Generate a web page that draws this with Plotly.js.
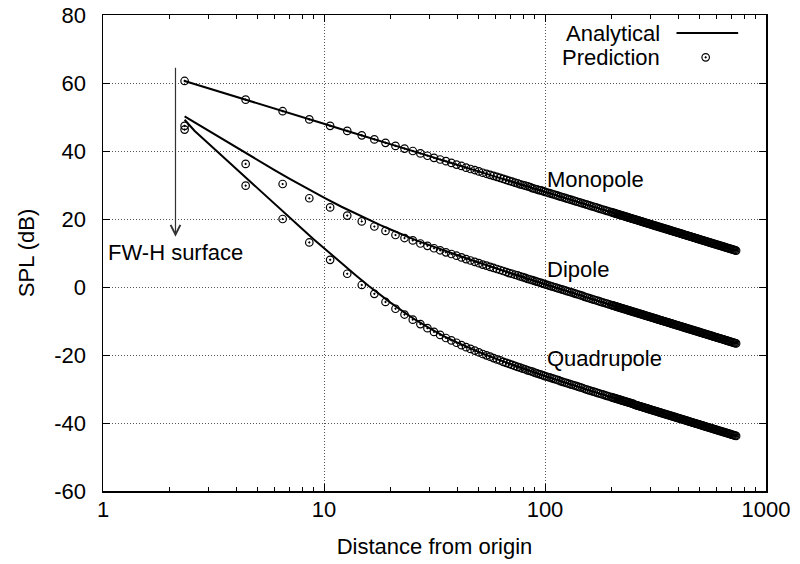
<!DOCTYPE html>
<html>
<head>
<meta charset="utf-8">
<script src="https://cdn.plot.ly/plotly-3.0.1.min.js"></script>
<style>
  html, body { margin: 0; padding: 0; background: #fff; }
  #chart { width: 800px; height: 564px; }
</style>
</head>
<body>
<div id="chart"></div>
<script>
// Distances of the FW-H prediction points (observer distance from origin)
const predDistance = [2.34, 4.42, 6.50, 8.58, 10.66, 12.74, 14.82, 16.90, 18.98, 21.06, 23.14, 25.22, 27.30, 29.38, 31.46, 33.54, 35.62, 37.70, 39.78, 41.86, 43.94, 46.02, 48.10, 50.18, 52.26, 54.34, 56.42, 58.50, 60.58, 62.66, 64.74, 66.82, 68.90, 70.98, 73.06, 75.14, 77.22, 79.30, 81.38, 83.46, 85.54, 87.62, 89.70, 91.78, 93.86, 95.94, 98.02,
  100.0, 102.3, 104.7, 107.2, 109.6, 112.2, 114.8, 117.5, 120.2, 123.0, 125.9, 128.8, 131.8, 134.9, 138.0, 141.3, 144.5, 147.9, 151.4, 154.9, 158.5, 162.2, 166.0, 169.8, 173.8, 177.8, 182.0, 186.2, 190.5, 195.0, 199.5, 204.2, 208.9, 213.8, 218.8, 223.9, 229.1, 234.4, 239.9, 245.5, 251.2, 257.0, 263.0, 269.2, 275.4, 281.8, 288.4, 295.1, 302.0, 309.0, 316.2, 323.6, 331.1, 338.8, 346.7, 354.8, 363.1, 371.5, 380.2, 389.0, 398.1, 407.4, 416.9, 426.6, 436.5, 446.7, 457.1, 467.7, 478.6, 489.8, 501.2, 512.9, 524.8, 537.0, 549.5, 562.3, 575.4, 588.8, 602.6, 616.6, 631.0, 645.7, 660.7, 676.1, 691.8, 707.9, 724.4, 732.4,
  201.8, 206.6, 211.3, 216.3, 221.3, 226.5, 231.8, 237.1, 242.7, 248.3, 254.1, 260.0, 266.1, 272.3, 278.6, 285.1, 291.7, 298.5, 305.5, 312.6, 319.9, 327.3, 334.9, 342.7, 350.7, 358.9, 367.3, 375.8, 384.6, 393.5, 402.7, 412.1, 421.7, 431.5, 441.6, 451.9, 462.4, 473.1, 484.1, 495.5, 507.0, 518.8, 530.9, 543.2, 555.9, 568.8, 582.1, 595.6, 609.6, 623.7, 638.3, 653.2, 668.4, 683.9, 699.8, 716.1];

// Predicted SPL (dB)
const predMonopole = [60.6, 55.1, 51.7, 49.3, 47.4, 45.9, 44.6, 43.4, 42.4, 41.5, 40.7, 40.0, 39.3, 38.6, 38.0, 37.5, 37.0, 36.5, 36.0, 35.6, 35.1, 34.7, 34.4, 34.0, 33.6, 33.3, 33.0, 32.7, 32.4, 32.1, 31.8, 31.5, 31.2, 31.0, 30.7, 30.5, 30.2, 30.0, 29.8, 29.6, 29.4, 29.1, 28.9, 28.7, 28.5, 28.4, 28.2,
  28.0, 27.8, 27.6, 27.4, 27.2, 27.0, 26.8, 26.6, 26.4, 26.2, 26.0, 25.8, 25.6, 25.4, 25.2, 25.0, 24.8, 24.6, 24.4, 24.2, 24.0, 23.8, 23.6, 23.4, 23.2, 23.0, 22.8, 22.6, 22.4, 22.2, 22.0, 21.8, 21.6, 21.4, 21.2, 21.0, 20.8, 20.6, 20.4, 20.2, 20.0, 19.8, 19.6, 19.4, 19.2, 19.0, 18.8, 18.6, 18.4, 18.2, 18.0, 17.8, 17.6, 17.4, 17.2, 17.0, 16.8, 16.6, 16.4, 16.2, 16.0, 15.8, 15.6, 15.4, 15.2, 15.0, 14.8, 14.6, 14.4, 14.2, 14.0, 13.8, 13.6, 13.4, 13.2, 13.0, 12.8, 12.6, 12.4, 12.2, 12.0, 11.8, 11.6, 11.4, 11.2, 11.0, 10.8, 10.7,
  21.9, 21.7, 21.5, 21.3, 21.1, 20.9, 20.7, 20.5, 20.3, 20.1, 19.9, 19.7, 19.5, 19.3, 19.1, 18.9, 18.7, 18.5, 18.3, 18.1, 17.9, 17.7, 17.5, 17.3, 17.1, 16.9, 16.7, 16.5, 16.3, 16.1, 15.9, 15.7, 15.5, 15.3, 15.1, 14.9, 14.7, 14.5, 14.3, 14.1, 13.9, 13.7, 13.5, 13.3, 13.1, 12.9, 12.7, 12.5, 12.3, 12.1, 11.9, 11.7, 11.5, 11.3, 11.1, 10.9];

const predDipole = [47.4, 36.2, 30.3, 26.1, 23.4, 21.0, 19.3, 17.8, 16.5, 15.3, 14.4, 13.7, 12.8, 12.1, 11.4, 10.8, 10.2, 9.7, 9.2, 8.7, 8.2, 7.8, 7.4, 7.0, 6.6, 6.3, 5.9, 5.6, 5.3, 5.0, 4.7, 4.4, 4.1, 3.9, 3.6, 3.4, 3.1, 2.9, 2.7, 2.4, 2.2, 2.0, 1.8, 1.6, 1.4, 1.2, 1.0,
  0.8, 0.6, 0.4, 0.2, 0.0, -0.2, -0.4, -0.6, -0.8, -1.0, -1.2, -1.4, -1.6, -1.8, -2.0, -2.2, -2.4, -2.6, -2.9, -3.1, -3.3, -3.5, -3.7, -3.9, -4.1, -4.3, -4.5, -4.7, -4.9, -5.1, -5.3, -5.5, -5.7, -5.9, -6.1, -6.3, -6.5, -6.7, -6.9, -7.1, -7.3, -7.5, -7.7, -7.9, -8.1, -8.3, -8.5, -8.7, -8.9, -9.1, -9.3, -9.5, -9.7, -9.9, -10.1, -10.3, -10.5, -10.7, -10.9, -11.1, -11.3, -11.5, -11.7, -11.9, -12.1, -12.3, -12.5, -12.7, -12.9, -13.1, -13.3, -13.5, -13.7, -13.9, -14.1, -14.3, -14.5, -14.7, -14.9, -15.1, -15.3, -15.5, -15.7, -15.9, -16.1, -16.3, -16.5, -16.6,
  -5.4, -5.6, -5.8, -6.0, -6.2, -6.4, -6.6, -6.8, -7.0, -7.2, -7.4, -7.6, -7.8, -8.0, -8.2, -8.4, -8.6, -8.8, -9.0, -9.2, -9.4, -9.6, -9.8, -10.0, -10.2, -10.4, -10.6, -10.8, -11.0, -11.2, -11.4, -11.6, -11.8, -12.0, -12.2, -12.4, -12.6, -12.8, -13.0, -13.2, -13.4, -13.6, -13.8, -14.0, -14.2, -14.4, -14.6, -14.8, -15.0, -15.2, -15.4, -15.6, -15.8, -16.0, -16.2, -16.4];

const predQuadrupole = [46.3, 29.8, 20.0, 13.1, 8.0, 3.9, 0.6, -2.0, -4.4, -6.4, -8.1, -9.6, -10.9, -12.1, -13.2, -14.1, -15.0, -15.7, -16.4, -17.1, -17.7, -18.2, -18.7, -19.2, -19.7, -20.1, -20.5, -20.9, -21.3, -21.6, -22.0, -22.3, -22.6, -22.9, -23.2, -23.5, -23.7, -24.0, -24.2, -24.5, -24.7, -24.9, -25.2, -25.4, -25.6, -25.8, -26.0,
  -26.2, -26.4, -26.6, -26.8, -27.0, -27.2, -27.4, -27.7, -27.9, -28.1, -28.3, -28.5, -28.7, -28.9, -29.1, -29.3, -29.5, -29.7, -30.0, -30.2, -30.4, -30.6, -30.8, -31.0, -31.2, -31.4, -31.6, -31.8, -32.0, -32.2, -32.4, -32.6, -32.8, -33.0, -33.2, -33.4, -33.6, -33.8, -34.0, -34.2, -34.4, -34.7, -34.9, -35.1, -35.3, -35.5, -35.7, -35.9, -36.1, -36.3, -36.5, -36.7, -36.9, -37.1, -37.3, -37.5, -37.7, -37.9, -38.1, -38.3, -38.5, -38.7, -38.9, -39.1, -39.3, -39.5, -39.7, -39.9, -40.1, -40.3, -40.5, -40.7, -40.9, -41.1, -41.3, -41.5, -41.7, -41.9, -42.1, -42.3, -42.5, -42.7, -42.9, -43.1, -43.3, -43.5, -43.7, -43.8,
  -32.5, -32.7, -32.9, -33.1, -33.3, -33.5, -33.7, -33.9, -34.1, -34.3, -34.6, -34.8, -35.0, -35.2, -35.4, -35.6, -35.8, -36.0, -36.2, -36.4, -36.6, -36.8, -37.0, -37.2, -37.4, -37.6, -37.8, -38.0, -38.2, -38.4, -38.6, -38.8, -39.0, -39.2, -39.4, -39.6, -39.8, -40.0, -40.2, -40.4, -40.6, -40.8, -41.0, -41.2, -41.4, -41.6, -41.8, -42.0, -42.2, -42.4, -42.6, -42.8, -43.0, -43.2, -43.4, -43.6];

// Analytical solution (SPL in dB)
const exactDistance = [2.34, 2.6, 3, 3.5, 4, 4.5, 5, 6, 7, 8, 9, 10, 12, 14, 16, 18, 20, 23, 26, 30, 35, 40, 50, 60, 80, 100, 150, 200, 300, 500, 732.4];
const exactMonopole = [60.6, 59.7, 58.5, 57.1, 56.0, 54.9, 54.0, 52.4, 51.1, 49.9, 48.9, 48.0, 46.4, 45.1, 43.9, 42.9, 42.0, 40.8, 39.7, 38.5, 37.1, 36.0, 34.0, 32.4, 29.9, 28.0, 24.5, 22.0, 18.5, 14.0, 10.7];
const exactDipole = [50.2, 48.4, 46.0, 43.3, 41.1, 39.1, 37.3, 34.3, 31.8, 29.7, 27.9, 26.3, 23.6, 21.5, 19.7, 18.2, 16.9, 15.2, 13.8, 12.3, 10.7, 9.3, 7.2, 5.5, 2.8, 0.8, -2.8, -5.3, -8.8, -13.3, -16.6];
const exactQuadrupole = [49.2, 45.9, 42.2, 38.2, 34.7, 31.7, 29.0, 24.3, 20.4, 17.0, 14.0, 11.4, 6.9, 3.3, 0.2, -2.4, -4.6, -7.4, -9.7, -12.1, -14.5, -16.3, -19.1, -21.1, -24.0, -26.2, -29.9, -32.4, -36.0, -40.5, -43.8];

// Axis ticks
const xTickVals = [1, 10, 100, 1000];
const xTickText = ['1', '10', '100', '1000'];
const yTickVals = [-60, -40, -20, 0, 20, 40, 60, 80];
const yTickText = ['-60', '-40', '-20', '0', '20', '40', '60', '80'];

// Labels
const sourceNames = ['Monopole', 'Dipole', 'Quadrupole'];
const seriesNames = ['Analytical', 'Prediction'];
const surfaceLabel = 'FW-H surface';

const FONT = '"Liberation Sans", Arial, Helvetica, sans-serif';
const lineStyle = { color: '#000', width: 2 };
const markerStyle = { symbol: 'circle-open-dot', size: 7.5, color: '#000', line: { width: 1.2, color: '#000' } };

const exactSets = [exactMonopole, exactDipole, exactQuadrupole];
const predSets = [predMonopole, predDipole, predQuadrupole];

const traces = [];
exactSets.forEach((ys, i) => {
  traces.push({ x: exactDistance, y: ys, mode: 'lines', line: lineStyle,
    name: seriesNames[0] + ' ' + sourceNames[i], showlegend: false, hoverinfo: 'skip' });
});
predSets.forEach((ys, i) => {
  traces.push({ x: predDistance, y: ys, mode: 'markers', marker: markerStyle,
    name: seriesNames[1] + ' ' + sourceNames[i], showlegend: false, hoverinfo: 'skip' });
});

// Key samples, drawn on a hidden unit overlay in the top-right corner
traces.push({ x: [0.865, 0.958], y: [0.962, 0.962], xaxis: 'x2', yaxis: 'y2',
  mode: 'lines', line: lineStyle, showlegend: false, hoverinfo: 'skip' });
traces.push({ x: [0.909], y: [0.911], xaxis: 'x2', yaxis: 'y2',
  mode: 'markers', marker: markerStyle, showlegend: false, hoverinfo: 'skip' });

const axisCommon = {
  showline: true, linecolor: '#000', linewidth: 1.5, mirror: 'allticks',
  ticks: 'inside', ticklen: 7, tickwidth: 1, tickcolor: '#000',
  showgrid: true, gridcolor: '#555', gridwidth: 1, griddash: '1px,2px',
  zeroline: false, tickfont: { family: FONT, size: 22, color: '#000' }
};

const textFont = { family: FONT, size: 22, color: '#000' };

const layout = {
  width: 800, height: 564,
  margin: { l: 103, r: 34, t: 15, b: 73 },
  paper_bgcolor: '#fff', plot_bgcolor: '#fff',
  showlegend: false,
  xaxis: Object.assign({}, axisCommon, {
    type: 'log', range: [0, 3], ticklabelstandoff: -2,
    tickmode: 'array', tickvals: xTickVals, ticktext: xTickText,
    minor: { ticks: 'inside', ticklen: 4, tickwidth: 1, tickcolor: '#000', dtick: 'D1', showgrid: false },
    title: { text: 'Distance from origin', font: textFont, standoff: 17 }
  }),
  yaxis: Object.assign({}, axisCommon, {
    range: [-60, 80], ticklabelstandoff: 11,
    tickmode: 'array', tickvals: yTickVals, ticktext: yTickText,
    title: { text: 'SPL (dB)', font: textFont, standoff: 13 }
  }),
  xaxis2: { overlaying: 'x', anchor: 'y2', range: [0, 1], visible: false, fixedrange: true },
  yaxis2: { overlaying: 'y', anchor: 'x2', range: [0, 1], visible: false, fixedrange: true },
  annotations: [
    { x: 2.0, y: 31.5, xref: 'x', yref: 'y', text: sourceNames[0], showarrow: false, xanchor: 'left', yanchor: 'middle', font: textFont },
    { x: 2.0, y: 5.1, xref: 'x', yref: 'y', text: sourceNames[1], showarrow: false, xanchor: 'left', yanchor: 'middle', font: textFont },
    { x: 2.0, y: -21.1, xref: 'x', yref: 'y', text: sourceNames[2], showarrow: false, xanchor: 'left', yanchor: 'middle', font: textFont },
    { x: 0.012, y: 10.1, xref: 'x', yref: 'y', text: surfaceLabel, showarrow: false, xanchor: 'left', yanchor: 'middle', font: textFont },
    { x: 0.328, y: 14.8, xref: 'x', yref: 'y', ax: 0.328, ay: 64.9, axref: 'x', ayref: 'y',
      text: '', showarrow: true, arrowhead: 5, arrowsize: 1.6, arrowwidth: 1.2, arrowcolor: '#333' },
    { x: 0.843, y: 0.962, xref: 'paper', yref: 'paper', text: seriesNames[0], showarrow: false, xanchor: 'right', yanchor: 'middle', font: textFont },
    { x: 0.843, y: 0.911, xref: 'paper', yref: 'paper', text: seriesNames[1], showarrow: false, xanchor: 'right', yanchor: 'middle', font: textFont }
  ]
};

Plotly.newPlot('chart', traces, layout, { displayModeBar: false, staticPlot: true });
</script>
</body>
</html>
